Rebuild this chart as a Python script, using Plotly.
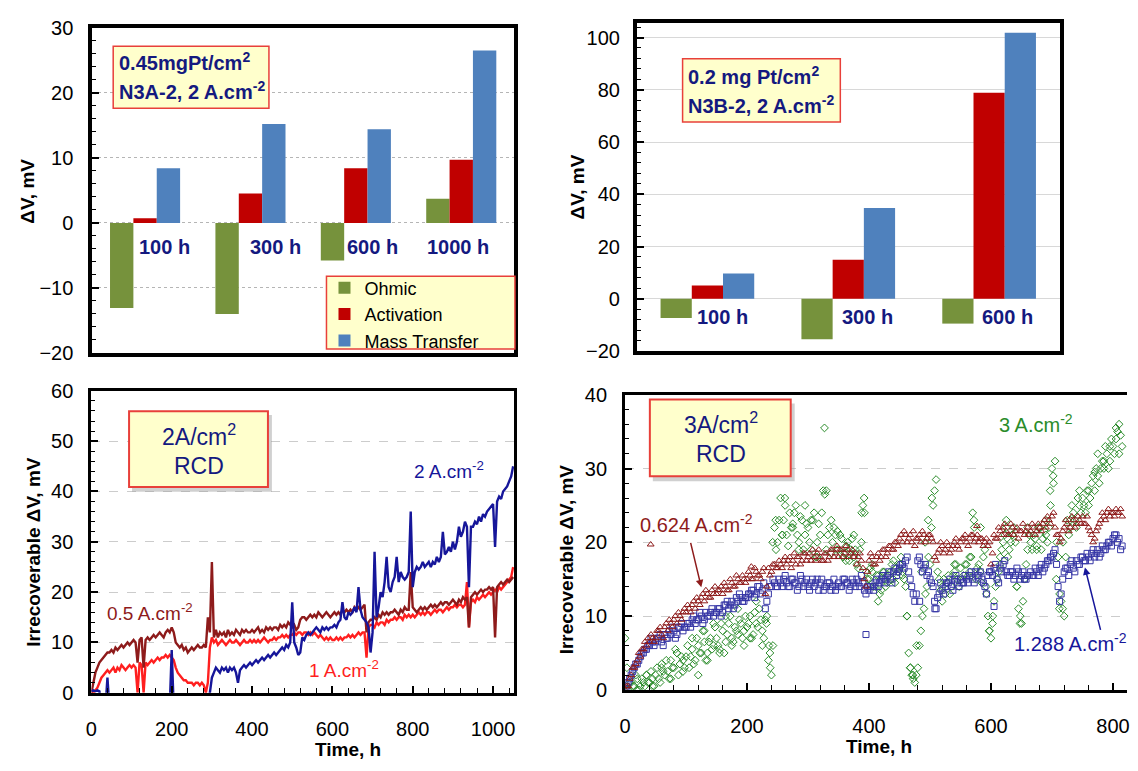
import numpy as np
import plotly.graph_objects as go

# The page body keeps the browser's default 8px margin, so the figure is
# sized to fill the rest of the 1138x771 window and positions are given in
# window pixels, converted below.
WIN_W, WIN_H, M = 1138, 771, 8
W, H = WIN_W - 2 * M, WIN_H - 2 * M
def px(x): return (x - M) / W
def py(y): return 1 - (y - M) / H

FONT = "Arial, Liberation Sans, sans-serif"
NAVY = "#14197F"
C_OHM, C_ACT, C_MASS = "#76923C", "#C00000", "#4F81BD"
MAROON, RED, BLUE, GREEN = "#8E1B1B", "#FF1F1F", "#16169A", "#2A8C2A"

# ---------------- top-left bars (0.45 mgPt/cm2) ----------------
tl_cats = ["100 h", "300 h", "600 h", "1000 h"]
tl_ohmic = [-13.1, -14.0, -5.8, 3.7]
tl_activation = [0.7, 4.5, 8.4, 9.7]
tl_mass = [8.4, 15.2, 14.4, 26.5]

# ---------------- top-right bars (0.2 mgPt/cm2) ----------------
tr_cats = ["100 h", "300 h", "600 h"]
tr_ohmic = [-7.4, -15.5, -9.5]
tr_activation = [5.1, 14.9, 78.9]
tr_mass = [9.7, 34.7, 101.8]

# ---------------- bottom-left lines (2 A/cm2 RCD) ----------------
bl_t = np.arange(0, 1051, 5)
bl_05 = [0, 2, 4, 5, 6, 6.5, 7, 7.5, 8, 8,
         8.5, 8, 9, 8.5, 9, 9.5, 9, 9.5, 10, 9.5,
         10, 10.5, 10, 6, 10.5, 11, 5, 10.5, 11, 10.5,
         11, 11.5, 11, 11.5, 12, 11.5, 11, 12, 12.5, 12,
         13, 12, 10, 9.5, 9, 9.5, 8.5, 9, 8, 8.5,
         9, 8.5, 9, 9.5, 9, 9, 9.5, 9, 15, 12,
         26, 11, 12.5, 11, 12, 11.5, 12, 11, 12.5, 11.5,
         12, 11.5, 12.5, 12, 11.5, 12.5, 12, 12.5, 12, 12,
         12.5, 12, 12.5, 13, 12, 12.5, 12, 13, 12.5, 13,
         12.5, 13, 13, 12.5, 13.5, 13, 13.5, 13, 14, 13.5,
         13, 13.5, 12.5, 13, 14.5, 15, 15, 14.5, 15, 15.5,
         15, 15.5, 15, 16, 15.5, 15, 15.5, 16, 15.5, 15,
         15.5, 16, 15.5, 16, 15.5, 16.5, 16, 16.5, 16, 16.5,
         16, 17, 16.5, 17, 16.5, 17, 17.5, 12, 14, 14.5,
         14.5, 15, 14.5, 15.5, 15, 16, 15.5, 16, 15.5, 16,
         16, 16.5, 16, 15.5, 16.5, 16, 17, 16.5, 16.5, 24,
         17, 16.5, 16, 16.5, 17, 16.5, 17, 16.5, 17, 17.5,
         17, 17.5, 17, 17.5, 18, 17.5, 18, 18, 17.5, 18,
         18.5, 18, 17.5, 18.5, 18, 19, 18.5, 19, 13, 19,
         19.5, 20, 19.5, 20, 20.5, 20, 20.5, 20.5, 21, 20.5,
         21, 11, 21, 21.5, 22, 21.5, 22, 22.5, 22, 22.5,
         23]
bl_1 = [0, 0, 0.5, 1, 2, 3, 3.5, 4, 4.5, 4,
        4.5, 5, 4, 5, 4.5, 5.5, 5, 4.5, 5, 5.5,
        5, 5.5, 5, 0, 6, 5.5, 0, 6, 5.5, 6,
        6.5, 6, 6.5, 7, 6.5, 7, 7, 7.5, 7, 7.5,
        7, 6.5, 5, 4, 3.5, 3, 2.5, 2.5, 2, 2,
        2, 1.5, 2, 2, 1.5, 2, 1.5, 0, 2, 9,
        11, 10, 10.5, 9.5, 10, 10.5, 10, 9.5, 10, 10.5,
        10, 10, 10.5, 10, 9.5, 10, 10.5, 10, 10, 10.5,
        10, 10.5, 10, 10.5, 10, 10.5, 11, 10.5, 10, 10.5,
        10.5, 11, 10.5, 11, 11, 11.5, 11, 11.5, 11, 11.5,
        11.5, 12, 11.5, 12, 12, 11.5, 12, 12, 11.5, 12,
        11.5, 12, 11.5, 11, 11.5, 11, 10.5, 11, 10.5, 11,
        10.5, 10.5, 11, 10.5, 11, 10.5, 11, 11, 11.5, 11,
        11.5, 11, 11.5, 12, 11.5, 12, 12, 7, 13, 13.5,
        13.5, 13, 14, 13.5, 14, 14, 13.5, 14.5, 14, 14.5,
        14.5, 15, 14.5, 15, 15, 14.5, 15.5, 15, 15.5, 15,
        15.5, 15, 15.5, 16, 15.5, 16, 15.5, 16, 16, 15.5,
        16, 16.5, 16, 16.5, 16.5, 16, 16.5, 17, 16.5, 17,
        17, 17.5, 17, 17.5, 17.5, 17, 17.5, 22, 13, 18,
        18.5, 18, 19, 18.5, 19, 19.5, 19, 19.5, 20, 19.5,
        20, 20.5, 20, 21, 20.5, 21, 21.5, 22, 22.5, 23,
        25]
bl_2 = [0.3, 0.5, 0.3, 0.5, 0.3, -3, -3, -3, 3, -3,
        -3, -3, -3, -3, -3, -3, -3, -3, -3, -3,
        -3, -3, -3, -3, -3, -3, -3, -3, -3, -3,
        -3, -3, -3, -3, -3, -3, -3, -3, -3, -3,
        8.5, -3, -3, -3, -3, -3, -3, -3, -3, -3,
        -3, -3, -3, -3, -3, -3, -3, -3, -3, 0,
        3, 4, 5, 4.5, 4, 5, 4.5, 5, 4, 5,
        4.5, 5, 4, 2, 4.5, 5, 5.5, 5, 5.5, 6,
        5.5, 6, 6.5, 6, 6.5, 7, 6.5, 7, 7.5, 7,
        7.5, 8, 7.5, 8, 8.5, 9, 8.5, 9.5, 9, 10,
        18, 10, 9, 7.5, 8, 11, 10.5, 11.5, 12, 11.5,
        12, 12.5, 13, 12.5, 12, 13, 12.5, 13, 12.5, 13,
        13, 13.5, 13, 14, 14.5, 18, 15, 14.5, 16, 15.5,
        16, 17, 16, 21, 16.5, 15, 14.5, 14, 13, 8,
        12, 28, 15, 17, 20, 19, 22, 27, 21, 20,
        22, 23, 27, 22, 24, 23, 22.5, 23, 24, 36,
        21, 24, 25, 24.5, 25, 26, 25, 25.5, 26, 25,
        26, 25.5, 27, 26, 27, 32, 27.5, 28, 29, 28,
        30, 28.5, 30, 33, 31, 32, 34, 33, 21, 33,
        33, 34, 33.5, 35, 34, 35.5, 35, 36, 36.5, 37,
        37.5, 29, 38, 39, 38.5, 40, 40.5, 41, 42, 43,
        45]

# ---------------- bottom-right scatter (3 A/cm2 RCD) ----------------
br_t = np.arange(0, 816, 5)          # readings on the marks 0, 5, 10 ... h
br_tb = np.arange(2.5, 816, 5)       # readings in between
br_0624 = [0, 0.5, 2, 3, 4, 4.5, 5.5, 6, 6.5, 7,
           7, 8, 7.5, 8.5, 8, 9, 9.5, 9, 10, 10.5,
           10.5, 11, 11.5, 11, 12, 12.5, 12, 13, 12.5, 13,
           13, 13.5, 13, 14, 13.5, 14.5, 14, 15, 14.5, 15,
           15, 15.5, 15, 16, 15.5, 16, 13, 16.5, 16, 17,
           16.5, 17, 17.5, 17, 18, 17.5, 17, 18, 17.5, 18.5,
           18, 17.5, 18, 18.5, 18, 17.5, 18.5, 18, 19, 18.5,
           18, 19, 18.5, 19, 18.5, 18, 17, 18.5, 16.5, 14,
           17.5, 18, 17, 18.5, 18, 19, 18.5, 19.5, 19, 20,
           20.5, 20, 21, 20.5, 20, 19.5, 20.5, 20, 21, 20.5,
           21, 20, 17.5, 19, 19.5, 19, 19.5, 19, 20, 19.5,
           20, 20.5, 20, 20.5, 21, 20.5, 20, 20.5, 20, 19.5,
           17, 21, 20.5, 21.5, 22, 21.5, 21, 22, 21.5, 20.5,
           21.5, 21, 22, 21.5, 22, 21.5, 22, 22.5, 22, 23,
           23.5, 22, 21, 20.5, 22, 22.5, 22, 23, 22.5, 23,
           23.5, 22.5, 22, 21, 20.5, 22, 23, 23.5, 24, 23.5,
           24, 24.5, 24, 23.5]
br_0624_b = [0.5, 1.5, 3, 3.5, 5, 5.5, 6.5, 7, 7.5, 6.5,
             8, 8.5, 7, 9, 9.5, 8.5, 10, 10.5, 9.5, 11,
             11.5, 10.5, 12, 12.5, 11.5, 13, 13.5, 12.5, 13.5, 14,
             13.5, 14, 14.5, 13.5, 15, 14, 15.5, 14.5, 15.5, 14.5,
             16, 15, 16.5, 15.5, 15, 16.5, 14, 15.5, 17, 16.5,
             17.5, 16.5, 18, 17.5, 16.5, 18.5, 18, 17, 18.5, 17.5,
             18.5, 19, 17.5, 19, 17.5, 18.5, 17.5, 19, 18, 19.5,
             19, 18, 19.5, 18, 19, 18.5, 18, 17.5, 15, 16,
             18.5, 17, 18, 17.5, 19, 18, 19.5, 19, 20, 19.5,
             21, 21.5, 20, 21, 21.5, 20.5, 21, 21.5, 20, 21,
             20.5, 18, 18.5, 20, 18.5, 20, 18.5, 19.5, 20.5, 19,
             20.5, 21, 19.5, 21, 20, 21, 20.5, 19.5, 20.5, 20,
             18.5, 20.5, 22, 21, 22.5, 21, 22.5, 21, 22, 21.5,
             22.5, 21.5, 21, 22.5, 21, 22.5, 21.5, 23, 23.5, 22.5,
             24, 21, 20, 21.5, 23, 21.5, 23.5, 22, 23.5, 22.5,
             22.5, 23.5, 21.5, 20, 21.5, 22.5, 24, 23, 24.5, 24,
             23.5, 24, 24.5]
br_1288 = [0, 1, 2, 3, 3.5, 4.5, 5, 5.5, 6, 6.5,
           6.5, 7, 6.5, 7.5, 7, 7.5, 8, 7.5, 8.5, 8,
           8.5, 9, 9.5, 9, 9.5, 10, 9.5, 10, 10.5, 10,
           10.5, 11, 10.5, 11.5, 11, 12, 11.5, 12, 12.5, 12,
           12.5, 13, 13.5, 13, 14, 13.5, 11, 13, 14, 14.5,
           14, 14.5, 15, 14.5, 14, 15, 14.5, 14, 15, 14.5,
           14, 14.5, 14, 15, 14.5, 13.5, 14, 14.5, 14, 13.5,
           14.5, 14, 15, 14.5, 14, 14.5, 15, 14, 14.5, 13,
           13.5, 14, 14.5, 14, 15, 14.5, 15.5, 15, 16, 15.5,
           16.5, 17, 17.5, 16, 14, 12, 17.5, 17, 16.5, 15.5,
           15, 14, 11, 13, 13.5, 14, 14.5, 14, 15, 14.5,
           15, 14.5, 15, 15.5, 15, 16, 15.5, 15, 14, 15.5,
           16, 16.5, 15, 16.5, 17, 16, 15.5, 16, 15.5, 16,
           15.5, 15, 15.5, 16, 15.5, 16, 16.5, 16, 17, 17.5,
           18, 19, 14, 13, 16, 16.5, 17, 16.5, 17.5, 17,
           18, 17.5, 18, 18.5, 18, 19, 18.5, 19, 19.5, 20,
           20.5, 21, 20.5, 19.5]
br_1288_b = [0.5, 1.5, 2.5, 3.5, 4, 5, 5.5, 6, 7, 6,
             7, 7.5, 6, 7, 8, 8.5, 7, 8.5, 9, 8.5,
             9, 8.5, 10, 9.5, 10.5, 9, 10.5, 10, 11, 10.5,
             11, 10, 11.5, 12, 11.5, 11, 12.5, 13, 12, 12.5,
             13, 13.5, 12.5, 14, 13, 14.5, 12, 14, 15, 14,
             15, 14, 15.5, 14, 15, 14.5, 13.5, 15.5, 14, 15,
             13.5, 15, 14.5, 13.5, 15, 14, 14.5, 13.5, 15, 14,
             14, 15, 14.5, 13.5, 15, 14, 14.5, 15.5, 13.5, 14,
             14, 13.5, 15, 14.5, 15.5, 15, 16, 14.5, 16.5, 16,
             17, 16.5, 18, 15, 13, 13, 18, 16, 17, 16,
             14.5, 12, 12.5, 14.5, 13, 14.5, 15, 13.5, 15.5, 14,
             14.5, 15.5, 14.5, 16, 14.5, 15.5, 16, 14.5, 13, 16,
             15.5, 17, 14.5, 16, 17.5, 15.5, 16, 15, 16.5, 15,
             16, 15, 15.5, 15.5, 16.5, 15.5, 17, 16.5, 17.5, 18,
             18.5, 17, 12, 15, 16.5, 15.5, 17.5, 16, 17, 18,
             17.5, 18.5, 17.5, 19, 18.5, 18, 19.5, 19, 20, 19.5,
             21, 20, 19]
br_3 = [0.5, 0, 1, 0.5, 1.5, 0.5, 1, 2, 1, 1.5,
        2, 1.5, 3, 2, 2.5, 4, 3, 5, 3.5, 4,
        4.5, 3, 5.5, 4, 6, 5, 6.5, 5, 7, 6,
        7, 5.5, 8, 6.5, 9, 7, 8.5, 7.5, 9, 8,
        8.5, 10, 7.5, 9, 11, 8, 9.5, 4, 2, 22,
        20, 26, 23, 21, 24, 22, 25, 20, 23, 21,
        22, 19, 24, 20, 21, 27, 19, 22, 20, 21,
        19, 20.5, 18.5, 20, 19, 18, 17, 19, 25, 16,
        15, 16, 14, 15.5, 13.5, 15, 14.5, 16, 15, 16.5,
        17, 16, 14, 5, 2, 1, 3, 8, 11, 14,
        17, 25, 28.5, 15, 14, 13, 15.5, 14, 16, 15,
        16.5, 15.5, 17, 16, 24, 15, 17, 14.5, 19, 10,
        7, 12, 15, 17, 20, 22, 19, 21, 20, 11,
        9, 15, 19, 20, 21, 19.5, 22, 20.5, 21, 22,
        30, 31, 18, 12, 10, 23, 22, 24, 22, 25,
        26, 24, 27, 28, 27, 29, 30, 31, 32, 31,
        33, 34, 36, 33]
br_3_b = [0, 1, 0.5, 2, 0, 1.5, 0.5, 1, 2.5, 0.5,
          3, 1, 2.5, 4, 1.5, 3, 5.5, 2, 4.5, 3,
          6, 4.5, 3.5, 7, 5, 8, 4, 6.5, 5.5, 8.5,
          6, 9, 5, 7.5, 10, 6.5, 8, 9.5, 7, 10,
          9, 7, 10.5, 8.5, 9.5, 7, 10, 5, 6, 19,
          23, 21, 25, 19.5, 22, 24, 21, 23.5, 19, 22.5,
          20, 23, 18, 22.5, 24, 26.5, 21, 18.5, 22, 19,
          21, 18, 19.5, 17.5, 20.5, 19, 16.5, 20, 24, 15,
          16.5, 14, 15.5, 13, 16, 14, 15.5, 17, 14.5, 16,
          18, 15, 10, 3, 1.5, 2, 6, 10, 13, 18,
          22, 27, 16, 13.5, 15, 14.5, 13, 15.5, 17, 14,
          15, 17, 15.5, 18, 22, 16.5, 16, 18, 13, 8,
          9, 14, 16, 19, 21, 18, 20, 22, 14, 9,
          12, 17, 21, 19, 20.5, 22, 19, 21.5, 20, 25,
          28, 20, 13, 11, 18, 21, 25, 23, 26, 24,
          25, 27, 26, 29, 30, 28, 31, 33, 30, 34,
          32, 35, 34.5]
# additional scattered readings
br_3_extra_t = [0, 3, 20, 35, 45, 60, 75, 85, 95, 110, 120, 130, 135, 145, 155, 165, 175, 185,
                195, 205, 215, 225, 232, 236, 238, 242, 247, 258, 262, 275, 285, 295, 305, 315,
                327, 330, 338, 348, 362, 375, 388, 392, 405, 415, 425, 440, 455, 462, 468, 472,
                478, 486, 492, 497, 503, 520, 540, 565, 572, 583, 592, 597, 603, 615, 625, 635,
                642, 648, 660, 675, 690, 697, 702, 707, 712, 718, 730, 745, 760, 770, 775, 785,
                795, 805, 810]
br_3_extra_v = [7, 3, 0, 2, 0.5, 3.5, 1.5, 5, 2.5, 7, 2, 8, 4, 9, 5, 10, 6, 11,
                6, 7, 12, 6, 9, 6, 3, 20, 23, 21, 26, 22.5, 19, 25, 23, 18,
                35.5, 27, 23, 21.5, 17.5, 21, 24, 26, 17, 12, 16, 17.5, 15.5, 10, 3, 2,
                6, 16, 20, 23, 26, 12, 17, 18, 23, 22, 14, 8, 10, 18, 23, 21,
                14, 10, 22, 19, 23, 27, 29, 15, 11, 20, 23, 27, 25, 29.5, 32, 30,
                33, 35.5, 32]
br_0624_extra_t = [42, 207, 577]
br_0624_extra_v = [19.7, 16.7, 22.2]
br_1288_extra_t = [395, 483, 508, 605]
br_1288_extra_v = [7.5, 12, 11, 11.3]

fig = go.Figure()

# bars
for name, vals, col in [("Ohmic", tl_ohmic, C_OHM), ("Activation", tl_activation, C_ACT),
                        ("Mass Transfer", tl_mass, C_MASS)]:
    fig.add_trace(go.Bar(x=tl_cats, y=vals, name=name, marker=dict(color=col, line=dict(width=0)),
                         xaxis="x", yaxis="y"))
for name, vals, col in [("Ohmic", tr_ohmic, C_OHM), ("Activation", tr_activation, C_ACT),
                        ("Mass Transfer", tr_mass, C_MASS)]:
    fig.add_trace(go.Bar(x=tr_cats, y=vals, name=name, marker=dict(color=col, line=dict(width=0)),
                         xaxis="x2", yaxis="y2", showlegend=False))

# lines
for vals, col in [(bl_1, RED), (bl_05, MAROON), (bl_2, BLUE)]:
    fig.add_trace(go.Scatter(x=bl_t, y=vals, mode="lines", line=dict(color=col, width=2.4),
                             xaxis="x3", yaxis="y3", showlegend=False))

# scatter
mk = dict(size=6, line=dict(width=1))
def sc(tlist, vlist, symbol, color):
    fig.add_trace(go.Scatter(x=tlist, y=vlist, mode="markers",
                             marker=dict(symbol=symbol, color=color, **mk),
                             xaxis="x4", yaxis="y4", showlegend=False))
sc(list(br_t) + list(br_tb) + br_3_extra_t, br_3 + br_3_b + br_3_extra_v, "diamond-open", GREEN)
sc(list(br_t) + list(br_tb) + br_1288_extra_t, br_1288 + br_1288_b + br_1288_extra_v,
   "square-open", "#3535A5")
sc(list(br_t) + list(br_tb) + br_0624_extra_t, br_0624 + br_0624_b + br_0624_extra_v,
   "triangle-up-open", MAROON)

tickfont = dict(family=FONT, size=20, color="black")

def yax(domain, rng, dtick, mdtick, grid_dash, grid_col, lw, standoff, mirror=True):
    return dict(domain=domain, range=rng, dtick=dtick, ticks="inside", ticklen=7, tickwidth=1.5,
                tickcolor="black", minor=dict(dtick=mdtick, ticks="inside", ticklen=4,
                                              tickwidth=1.2, tickcolor="black", showgrid=False),
                showline=True, linecolor="black", linewidth=lw, mirror=mirror,
                showgrid=True, gridcolor=grid_col, griddash=grid_dash, gridwidth=1,
                zeroline=False, tickfont=tickfont, ticklabelstandoff=standoff)

def xcat(domain, rng, anchor):
    return dict(domain=domain, range=rng, anchor=anchor, showline=True, linecolor="black",
                linewidth=4, mirror=True, showticklabels=False, ticks="", showgrid=False,
                zeroline=False)

def xlin(domain, rng, anchor, lw, standoff):
    return dict(domain=domain, range=rng, anchor=anchor, dtick=200, ticks="inside", ticklen=7,
                tickwidth=1.5, tickcolor="black",
                minor=dict(dtick=40, ticks="inside", ticklen=5, tickwidth=1.2, tickcolor="black"),
                showline=True, linecolor="black", linewidth=lw, mirror=True, showgrid=False,
                zeroline=False, tickfont=tickfont, ticklabelstandoff=standoff,
                ticklabeloverflow="allow")

fig.update_layout(
    width=W, height=H, margin=dict(l=0, r=0, t=0, b=0),
    paper_bgcolor="white", plot_bgcolor="white",
    barmode="group", bargap=0.335, bargroupgap=0,
    font=dict(family=FONT, color="black"),
    xaxis=xcat([px(87), px(512)], [-0.5, 3.5], "y"),
    yaxis=dict(anchor="x", **yax([py(352), py(17)], [-20, 30], 10, 2, "dot", "#B5B5B5", 4, 11)),
    xaxis2=xcat([px(636), px(1062)], [-0.5, 2.5], "y2"),
    yaxis2=dict(anchor="x2", **yax([py(350), py(12)], [-20, 105.6], 20, 4, "solid", "#D8D8D8", 4, 9)),
    xaxis3=xlin([px(86), px(512)], [0, 1052], "y3", 3, 16),
    yaxis3=dict(anchor="x3", **yax([py(702), py(391)], [0, 60], 10, 2, "dash", "#CCCCCC", 3, 11)),
    xaxis4=xlin([px(624), 1.0], [0, 823], "y4", 3, 16),
    yaxis4=dict(anchor="x4", **yax([py(699), py(395)], [0, 40], 10, 2, "dash", "#CCCCCC", 3, 11,
                                   mirror=False)),
    legend=dict(x=px(321), y=py(266), xanchor="left", yanchor="top", bgcolor="rgba(0,0,0,0)",
                borderwidth=0, font=dict(family=FONT, size=18, color="black"), tracegroupgap=0),
)

shapes = []
def box(x0, y0, x1, y1, shadow=False, lw=1.5):
    if shadow:
        shapes.append(dict(type="rect", xref="paper", yref="paper", x0=px(x0 + 3), x1=px(x1 + 4),
                           y0=py(y1 + 5), y1=py(y0 + 4), fillcolor="rgba(150,150,150,0.45)",
                           line=dict(width=0), layer="above"))
    shapes.append(dict(type="rect", xref="paper", yref="paper", x0=px(x0), x1=px(x1),
                       y0=py(y1), y1=py(y0), fillcolor="#FFFFCC",
                       line=dict(color="#E8403A", width=lw), layer="above"))

box(108, 36, 265, 100)
box(682, 49, 841, 114)
box(323, 273, 513, 348)
box(124, 412, 264, 490, shadow=True, lw=2)
box(649, 400, 791, 479, shadow=True, lw=2)
fig.update_layout(shapes=shapes)

anns = []
def ann(text, x, y, size=20, color=NAVY, xanchor="left", bold=False, angle=0):
    t = f"<b>{text}</b>" if bold else text
    anns.append(dict(text=t, x=px(x), y=py(y), xref="paper", yref="paper", showarrow=False,
                     xanchor=xanchor, yanchor="middle", textangle=angle,
                     font=dict(family=FONT, size=size, color=color)))

# box texts
ann("0.45mgPt/cm<sup>2</sup>", 112, 52, 20, bold=True)
ann("N3A-2, 2 A.cm<sup>-2</sup>", 112, 82, 20, bold=True)
ann("0.2 mg Pt/cm<sup>2</sup>", 685, 66, 20, bold=True)
ann("N3B-2, 2 A.cm<sup>-2</sup>", 685, 96, 20, bold=True)
ann("2A/cm<sup>2</sup>", 194, 436, 23, xanchor="center")
ann("RCD", 194, 468, 23, xanchor="center")
ann("3A/cm<sup>2</sup>", 721, 424, 23, xanchor="center")
ann("RCD", 721, 456, 23, xanchor="center")

# axis titles
ann("ΔV, mV", 22, 185, 19, "black", "center", True, -90)
ann("ΔV, mV", 577, 181, 19, "black", "center", True, -90)
ann("Irrecoverable ΔV, mV", 27, 557, 19, "black", "center", True, -90)
ann("Irrecoverable ΔV, mV", 565, 565, 19, "black", "center", True, -90)
ann("Time, h", 345, 760, 19, "black", "center", True)
ann("Time, h", 880, 757, 19, "black", "center", True)

# category labels inside the bar panels
tl_lab_off = [0.18, 0.235, 0.16, -0.03]
for i, c in enumerate(tl_cats):
    anns.append(dict(text=f"<b>{c}</b>", x=i + tl_lab_off[i], y=-3.7, xref="x", yref="y",
                     showarrow=False, xanchor="center", yanchor="middle",
                     font=dict(family=FONT, size=20, color=NAVY)))
tr_lab_off = [0.105, 0.134, 0.13]
for i, c in enumerate(tr_cats):
    anns.append(dict(text=f"<b>{c}</b>", x=i + tr_lab_off[i], y=-7.0, xref="x2", yref="y2",
                     showarrow=False, xanchor="center", yanchor="middle",
                     font=dict(family=FONT, size=20, color=NAVY)))

# series labels
ann("0.5 A.cm<sup>-2</sup>", 100, 619, 19, MAROON)
ann("1 A.cm<sup>-2</sup>", 303, 677, 19, RED)
ann("2 A.cm<sup>-2</sup>", 409, 473, 19, BLUE)
ann("0.624 A.cm<sup>-2</sup>", 637, 528, 20, MAROON)
ann("1.288 A.cm<sup>-2</sup>", 1014, 650, 20, BLUE)
ann("3 A.cm<sup>-2</sup>", 999, 425, 20, GREEN)

# arrows
anns.append(dict(text="", x=125, y=13.9, xref="x4", yref="y4", ax=-11, ay=-46, showarrow=True,
                 arrowhead=2, arrowsize=1, arrowwidth=1.5, arrowcolor=MAROON))
anns.append(dict(text="", x=754, y=16.6, xref="x4", yref="y4", ax=16, ay=64, showarrow=True,
                 arrowhead=2, arrowsize=1, arrowwidth=1.5, arrowcolor=BLUE))

fig.update_layout(annotations=anns)

fig.write_html("out.html", config={"displayModeBar": False})
